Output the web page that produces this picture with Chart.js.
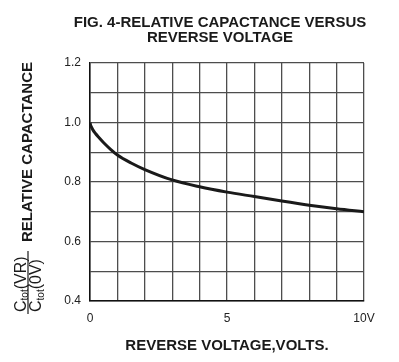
<!DOCTYPE html>
<html>
<head>
<meta charset="utf-8">
<script src="https://cdn.jsdelivr.net/npm/chart.js@4.4.0/dist/chart.umd.min.js"></script>
<style>
  body { margin: 0; background: #fff; }
</style>
</head>
<body>
<canvas id="capChart" width="399" height="362"></canvas>
<script>
// reverse voltage (V) and relative capacitance Ctot(VR)/Ctot(0V)
const voltage = [0, 0.02, 0.05, 0.1, 0.2, 0.3, 0.5, 0.75, 1, 1.5, 2, 3, 4, 5, 6, 7, 8, 9, 10];
const relCap = [1.0, 0.992, 0.985, 0.976, 0.963, 0.952, 0.932, 0.910, 0.891, 0.864, 0.842, 0.807, 0.784, 0.766, 0.751, 0.736, 0.722, 0.710, 0.70];

const xTickLabels = { 0: "0", 5: "5", 10: "10V" };
const yTickLabels = { 4: "0.4", 6: "0.6", 8: "0.8", 10: "1.0", 12: "1.2" };
const titleLines = ["FIG. 4-RELATIVE CAPACTANCE VERSUS", "REVERSE VOLTAGE"];

const FONT = "'Liberation Sans', Arial, sans-serif";

const axisText = {
    id: "axisText",
    afterDraw(chart) {
        const ctx = chart.ctx;
        ctx.save();
        ctx.fillStyle = "#1a1a1a";

        // two-line figure title
        ctx.font = "bold 15px " + FONT;
        ctx.textAlign = "center";
        ctx.textBaseline = "middle";
        ctx.fillText(titleLines[0], 220, 22.5);
        ctx.fillText(titleLines[1], 220, 37.5);

        // rotated y title
        ctx.save();
        ctx.translate(31.5, 152);
        ctx.rotate(-Math.PI / 2);
        ctx.textAlign = "center";
        ctx.textBaseline = "alphabetic";
        ctx.fillText("RELATIVE CAPACTANCE", 0, 0);
        ctx.restore();

        // Ctot(VR) / Ctot(0V)
        ctx.save();
        ctx.translate(28, 283);
        ctx.rotate(-Math.PI / 2);
        ctx.textAlign = "left";
        ctx.textBaseline = "alphabetic";
        function part(str, u, v, size) {
            ctx.font = size + "px " + FONT;
            ctx.fillText(str, u, v);
            return u + ctx.measureText(str).width;
        }
        let u = -29;
        u = part("C", u, -2.5, 16);
        u = part("tot", u, 0, 10);
        part("(VR)", u, -2.5, 16);
        u = -29;
        u = part("C", u, 13, 16);
        u = part("tot", u, 15.5, 10);
        part("(0V)", u, 13, 16);
        ctx.strokeStyle = "#1a1a1a";
        ctx.lineWidth = 1.2;
        ctx.beginPath();
        ctx.moveTo(-31, 0);
        ctx.lineTo(32, 0);
        ctx.stroke();
        ctx.restore();

        ctx.restore();
    }
};

new Chart(document.getElementById("capChart"), {
    type: "line",
    data: {
        datasets: [{
            label: "Relative capacitance",
            data: voltage.map((v, i) => ({ x: v, y: relCap[i] })),
            borderColor: "#1a1a1a",
            borderWidth: 3,
            pointRadius: 0,
            fill: false,
            cubicInterpolationMode: "monotone"
        }]
    },
    options: {
        responsive: false,
        animation: false,
        layout: { padding: { left: 50, right: 35, top: 63, bottom: 0 } },
        plugins: {
            legend: { display: false },
            tooltip: { enabled: false },
            title: { display: false }
        },
        scales: {
            x: {
                type: "linear",
                min: 0,
                max: 10,
                afterFit: scale => { scale.height = 61; },
                grid: { color: "#4d4d4d", lineWidth: 1.3, drawTicks: false },
                border: { color: "#111", width: 1.5 },
                ticks: {
                    stepSize: 1,
                    autoSkip: false,
                    maxRotation: 0,
                    padding: 10,
                    color: "#222",
                    font: { family: FONT, size: 12 },
                    callback: v => xTickLabels[v] ?? ""
                },
                title: {
                    display: true,
                    text: "REVERSE VOLTAGE,VOLTS.",
                    color: "#1a1a1a",
                    font: { family: FONT, size: 15, weight: "bold" },
                    padding: { top: 0, bottom: 7 }
                }
            },
            y: {
                min: 0.4,
                max: 1.2,
                afterFit: scale => { scale.width = 40; },
                grid: { color: "#4d4d4d", lineWidth: 1.3, drawTicks: false },
                border: { color: "#111", width: 1.5 },
                ticks: {
                    stepSize: 0.1,
                    autoSkip: false,
                    padding: 9,
                    color: "#222",
                    font: { family: FONT, size: 12 },
                    callback: v => yTickLabels[Math.round(v * 10)] ?? ""
                }
            }
        }
    },
    plugins: [axisText]
});
</script>
</body>
</html>
